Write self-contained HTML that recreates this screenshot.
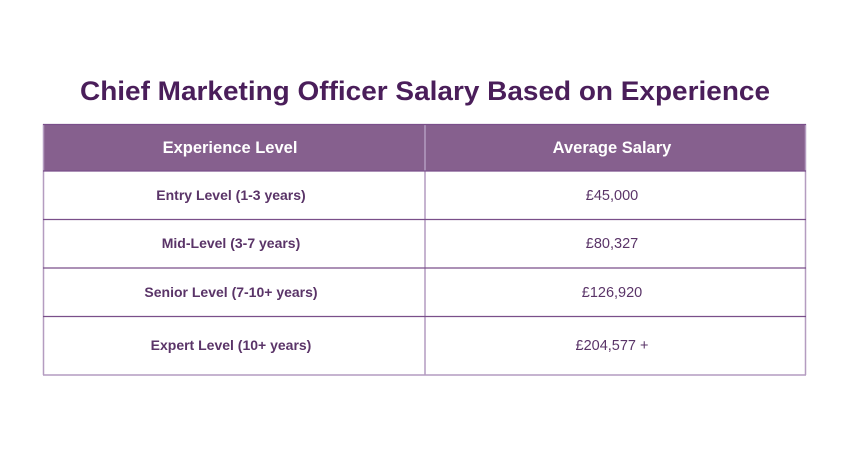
<!DOCTYPE html>
<html><head><meta charset="utf-8"><style>
body{margin:0;background:#fff;}
svg{display:block;}
text{font-family:"Liberation Sans",sans-serif;}
</style></head><body>
<svg width="850" height="450" viewBox="0 0 850 450">
<rect width="850" height="450" fill="#fff"/>
<text x="425" y="100" text-anchor="middle" font-size="27" font-weight="bold" fill="#4a1e5a" textLength="690" lengthAdjust="spacingAndGlyphs">Chief Marketing Officer Salary Based on Experience</text>
<rect x="43" y="124" width="763" height="47" fill="#86608e"/>
<g stroke="#b49cc0" stroke-width="1.5" fill="none">
<line x1="43.5" y1="124" x2="43.5" y2="375"/>
<line x1="805.5" y1="124" x2="805.5" y2="375"/>
<line x1="425" y1="124" x2="425" y2="375"/>
<line x1="43" y1="375" x2="806" y2="375"/>
</g>
<g stroke="#7a4f8a" stroke-width="1.2">
<line x1="43" y1="124.5" x2="806" y2="124.5"/>
<line x1="43" y1="171" x2="806" y2="171"/>
<line x1="43" y1="219.5" x2="806" y2="219.5"/>
<line x1="43" y1="268" x2="806" y2="268"/>
<line x1="43" y1="316.5" x2="806" y2="316.5"/>
</g>
<g font-size="16.5" font-weight="bold" fill="#fff" text-anchor="middle">
<text x="230" y="153">Experience Level</text>
<text x="612" y="153">Average Salary</text>
</g>
<g font-size="14" font-weight="bold" fill="#5a3468" text-anchor="middle">
<text x="231" y="200">Entry Level (1-3 years)</text>
<text x="231" y="248">Mid-Level (3-7 years)</text>
<text x="231" y="297">Senior Level (7-10+ years)</text>
<text x="231" y="350">Expert Level (10+ years)</text>
</g>
<g font-size="14.5" fill="#5a3468" text-anchor="middle">
<text x="612" y="200">£45,000</text>
<text x="612" y="248">£80,327</text>
<text x="612" y="297">£126,920</text>
<text x="612" y="350">£204,577 +</text>
</g>
</svg>
</body></html>
